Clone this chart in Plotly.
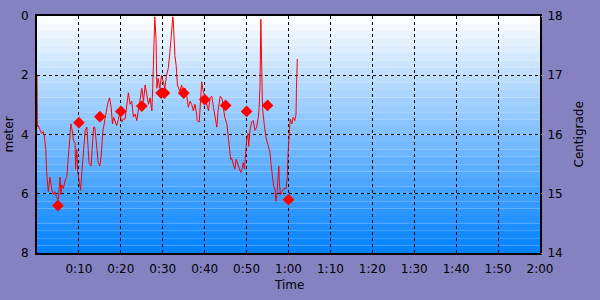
import plotly.graph_objects as go

# Depth profile (minutes, meters)
time_min = [0.0, 0.1, 0.3, 0.7, 1.1, 1.5, 1.7, 2.1, 2.3, 2.7, 3.1, 3.5, 3.9, 4.3, 4.7, 5.1, 5.5, 5.7, 5.9, 6.3,
            6.7, 7.1, 7.5, 7.7, 8.1, 8.4, 8.7, 9.1, 9.2, 9.5, 9.7, 10.0, 10.4, 10.7, 11.0, 11.5, 11.9, 12.1, 12.4, 12.9,
            13.2, 13.5, 13.8, 14.2, 14.6, 15.0, 15.3, 15.7, 16.1, 16.4, 16.7, 17.0, 17.3, 17.7, 18.0, 18.3, 18.6, 19.0, 19.4, 19.8,
            20.2, 20.6, 21.0, 21.4, 21.8, 22.2, 22.6, 23.0, 23.4, 23.8, 24.2, 24.6, 25.0, 25.4, 25.8, 26.2, 26.6, 27.0, 27.4, 27.6,
            27.9, 28.1, 28.4, 28.6, 28.9, 29.3, 29.7, 30.1, 30.5, 30.9, 31.3, 31.7, 32.1, 32.4, 32.5, 32.9, 33.2, 33.5, 34.1, 34.5,
            34.9, 35.3, 35.7, 36.1, 36.5, 36.9, 37.3, 37.7, 38.1, 38.2, 38.7, 39.3, 39.5, 40.1, 40.5, 40.9, 41.3, 41.7, 42.1, 42.5,
            42.9, 43.2, 43.7, 44.1, 44.4, 44.8, 45.3, 45.6, 45.9, 46.2, 46.4, 46.8, 47.2, 47.5, 47.8, 48.3, 48.6, 48.9, 49.2, 49.5,
            49.8, 50.0, 50.3, 50.5, 50.8, 51.2, 51.6, 52.0, 52.4, 52.8, 53.0, 53.2, 53.4, 53.6, 53.8, 54.2, 54.6, 55.2, 55.6, 55.8,
            56.1, 56.4, 56.8, 57.0, 57.3, 57.7, 57.8, 58.1, 58.4, 58.9, 59.4, 59.7, 59.9, 60.2, 60.4, 60.8, 61.1, 61.5, 61.8, 61.9,
            62.1]
depth_m = [2.03, 3.74, 3.70, 3.86, 3.97, 3.90, 4.02, 4.51, 5.28, 5.93, 5.44, 5.83, 6.03, 5.93, 6.15, 6.20, 5.44, 6.03, 5.70, 5.83,
           5.54, 5.44, 4.72, 4.30, 3.64, 3.86, 4.19, 4.30, 5.17, 4.51, 5.28, 5.50, 5.88, 5.28, 4.84, 3.86, 3.75, 4.40, 4.95, 5.06,
           4.40, 3.75, 3.75, 4.51, 4.95, 5.06, 4.73, 3.91, 3.53, 3.37, 3.09, 2.88, 2.76, 3.09, 3.64, 3.42, 3.58, 3.70, 3.48, 3.31,
           3.58, 3.48, 3.48, 2.98, 2.59, 2.98, 2.88, 3.41, 3.31, 3.53, 3.20, 2.88, 2.44, 2.88, 2.33, 2.66, 2.98, 2.76, 3.20, 2.44,
           0.69, 0.03, 0.80, 2.44, 2.11, 2.44, 2.00, 2.27, 2.44, 2.00, 1.78, 1.24, 0.36, 0.03, 0.14, 1.34, 1.67, 2.33, 2.55, 2.33,
           2.66, 2.44, 2.66, 3.08, 2.88, 2.98, 3.20, 2.98, 3.31, 3.53, 3.58, 2.22, 2.44, 2.76, 2.98, 3.20, 2.76, 2.71, 3.09, 3.42,
           3.75, 3.20, 2.71, 2.76, 3.09, 3.42, 3.64, 4.08, 4.62, 4.84, 4.79, 4.95, 5.17, 4.84, 4.95, 5.17, 5.28, 5.17, 4.95, 5.17,
           4.62, 4.19, 3.97, 4.40, 3.86, 3.58, 3.53, 3.86, 3.75, 3.42, 3.09, 2.33, 0.11, 2.76, 3.09, 3.64, 4.08, 4.40, 4.62, 4.95,
           5.39, 5.71, 5.88, 6.26, 5.93, 5.06, 5.61, 6.04, 5.93, 5.83, 5.83, 5.50, 4.62, 4.02, 3.48, 3.64, 3.42, 3.53, 3.31, 2.44,
           1.45]

# Temperature samples (minutes, degrees C)
temp_time = [5.0, 10.0, 15.0, 20.0, 25.0, 29.6, 30.4, 35.0, 40.0, 45.0, 50.0, 55.0, 60.0]
temp_c = [14.80, 16.20, 16.30, 16.39, 16.48, 16.70, 16.70, 16.70, 16.59, 16.49, 16.39, 16.49, 14.90]

x_tickvals = [10, 20, 30, 40, 50, 60, 70, 80, 90, 100, 110, 120]
x_ticktext = ["0:10", "0:20", "0:30", "0:40", "0:50", "1:00", "1:10", "1:20", "1:30", "1:40", "1:50", "2:00"]
depth_ticks = [0, 2, 4, 6, 8]
temp_ticks = [14, 15, 16, 17, 18]

FONT = "DejaVu Sans"
BG = "#8682c2"

fig = go.Figure()
fig.add_trace(go.Scatter(x=time_min, y=depth_m, mode="lines",
                         line=dict(color="#ff0000", width=1), yaxis="y", showlegend=False,
                         hoverinfo="skip"))
fig.add_trace(go.Scatter(x=temp_time, y=temp_c, mode="markers",
                         marker=dict(symbol="diamond", size=9, color="#ff0000", line=dict(width=0)),
                         yaxis="y2", showlegend=False, hoverinfo="skip"))

# banded gradient background: white -> #0080ff
n_bands = 32
shapes = []
for i in range(n_bands):
    f = (i + 0.5) / n_bands
    r = round(255 * (1 - f))
    g = round(255 - 127 * f)
    b = 255
    shapes.append(dict(type="rect", xref="x domain", yref="y domain",
                       x0=0, x1=1, y0=1 - (i + 1) / n_bands, y1=1 - i / n_bands,
                       fillcolor=f"rgb({r},{g},{b})", line=dict(width=0), layer="below"))

axis_font = dict(family=FONT, size=12, color="#000000")

fig.update_layout(
    width=600, height=300,
    margin=dict(l=37, r=60, t=9, b=47),
    paper_bgcolor=BG, plot_bgcolor="#ffffff",
    font=dict(family=FONT, size=12, color="#000000"),
    shapes=shapes,
    xaxis=dict(range=[0, 120], tickvals=x_tickvals, ticktext=x_ticktext,
               showgrid=True, gridcolor="#000000", griddash="3px,3px", gridwidth=1,
               showline=True, linecolor="#000000", linewidth=2, mirror=True,
               ticks="outside", ticklen=4, tickcolor="#9090a0", tickfont=axis_font,
               zeroline=False, fixedrange=True),
    yaxis=dict(range=[8, 0], tickvals=depth_ticks,
               showgrid=True, gridcolor="#000000", griddash="3px,3px", gridwidth=1,
               showline=True, linecolor="#000000", linewidth=2, mirror=True,
               ticks="outside", ticklen=4, tickcolor="#9090a0", tickfont=axis_font,
               zeroline=False),
    yaxis2=dict(range=[14, 18], tickvals=temp_ticks, overlaying="y", side="right",
                showgrid=False, showline=False, zeroline=False,
                ticks="outside", ticklen=4, tickcolor="#9090a0", tickfont=axis_font),
    annotations=[
        dict(text="meter", xref="paper", yref="paper", x=0, y=0.5, xshift=-29,
             textangle=-90, showarrow=False, font=axis_font, xanchor="center", yanchor="middle"),
        dict(text="Centigrade", xref="paper", yref="paper", x=1, y=0.5, xshift=38,
             textangle=-90, showarrow=False, font=axis_font, xanchor="center", yanchor="middle"),
        dict(text="Time", xref="paper", yref="paper", x=0.5, y=0, yshift=-32,
             showarrow=False, font=axis_font, xanchor="center", yanchor="middle"),
    ],
)

fig.write_html("out.html")
